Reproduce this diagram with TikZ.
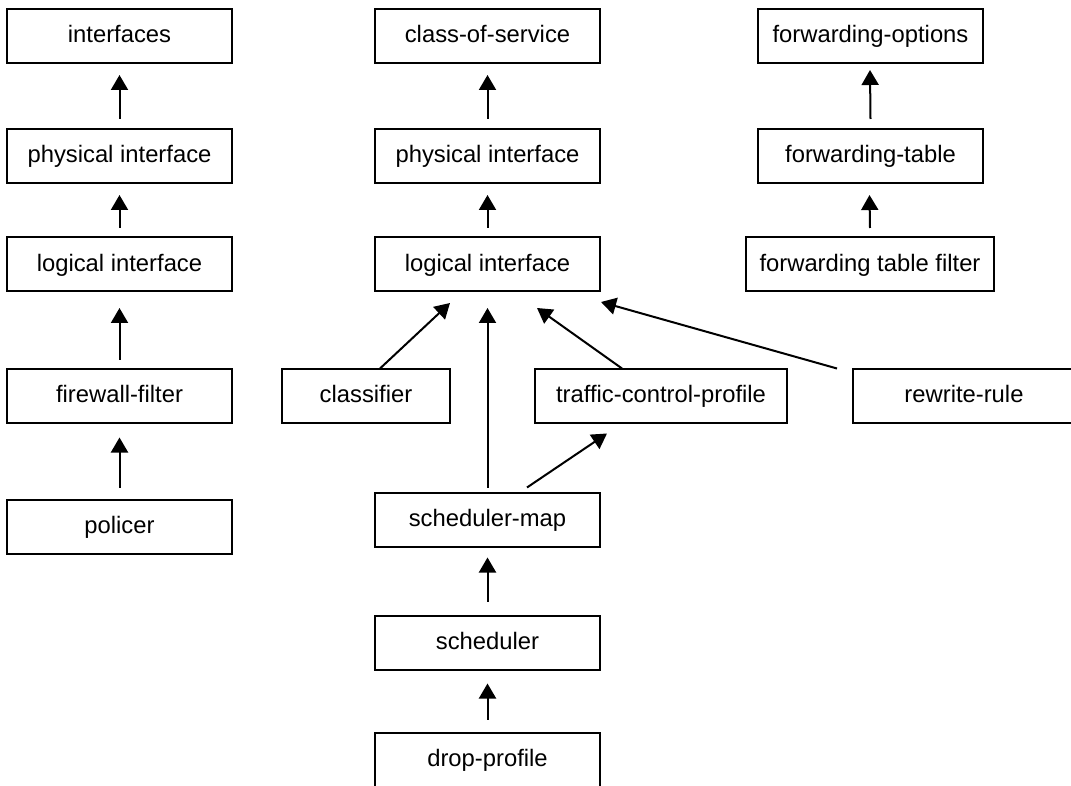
\documentclass[tikz,border=0pt]{standalone}
\usepackage{fontspec}
\setmainfont{Liberation Sans}
\usetikzlibrary{arrows.meta,calc}
\begin{document}
\begin{tikzpicture}[x=0.5pt,y=-0.5pt,
  box/.style={draw, line width=1pt, minimum height=27pt, inner sep=0pt, outer sep=0pt,
    text height=9pt, text depth=2pt, font=\fontsize{11.9}{14}\selectfont},
  arr/.style={line width=1pt, -{Triangle[length=7.5pt,width=8.5pt]}}]
\clip (0,0) rectangle (1071,786);
\fill[white] (0,0) rectangle (1071,786);
% left column
\node[box, minimum width=112.5pt] (interfaces) at (119.5,36) {interfaces};
\node[box, minimum width=112.5pt] (phys1) at (119.5,156) {physical interface};
\node[box, minimum width=112.5pt] (log1) at (119.5,264) {logical interface};
\node[box, minimum width=112.5pt] (firewall) at (119.5,395.5) {firewall-filter};
\node[box, minimum width=112.5pt] (policer) at (119.5,526.5) {policer};
% middle column
\node[box, minimum width=112.5pt] (cos) at (487.5,36) {class-of-service};
\node[box, minimum width=112.5pt] (phys2) at (487.5,156) {physical interface};
\node[box, minimum width=112.5pt] (log2) at (487.5,264) {logical interface};
\node[box, minimum width=84pt] (classifier) at (366,395.5) {classifier};
\node[box, minimum width=126pt] (tcp) at (661,395.5) {traffic-control-profile};
\node[box, minimum width=111pt] (rewrite) at (964,395.5) {rewrite-rule};
\node[box, minimum width=112.5pt] (schedmap) at (487.5,519.5) {scheduler-map};
\node[box, minimum width=112.5pt] (scheduler) at (487.5,642.5) {scheduler};
\node[box, minimum width=112.5pt] (drop) at (487.5,759.5) {drop-profile};
% right column
\node[box, minimum width=112.5pt] (fopts) at (870.5,36) {forwarding-options};
\node[box, minimum width=112.5pt] (ftable) at (870.5,156) {forwarding-table};
\node[box, minimum width=124pt] (ffilter) at (870,264) {forwarding table filter};
% arrows left
\draw[arr] ($(phys1.north)+(0,-10)$) -- ($(interfaces.south)+(0,12)$);
\draw[arr] ($(log1.north)+(0,-9)$) -- ($(phys1.south)+(0,12)$);
\draw[arr] ($(firewall.north)+(0,-9)$) -- ($(log1.south)+(0,17)$);
\draw[arr] ($(policer.north)+(0,-12)$) -- ($(firewall.south)+(0,15)$);
% arrows middle
\draw[arr] ($(phys2.north)+(0,-10)$) -- ($(cos.south)+(0,12)$);
\draw[arr] ($(log2.north)+(0,-9)$) -- ($(phys2.south)+(0,12)$);
\draw[arr] ($(classifier.north)+(14,0)$) -- ($(log2.south)+(-37.5,12)$);
\draw[arr] ($(schedmap.north)+(0,-5)$) -- ($(log2.south)+(0,17)$);
\draw[arr] ($(tcp.north)+(-39,0)$) -- ($(log2.south)+(49.5,17)$);
\draw[arr] ($(rewrite.north west)+(-16,0)$) -- ($(log2.south east)+(1,11)$);
\draw[arr] ($(schedmap.north)+(39.5,-5)$) -- ($(tcp.south west)+(72,11)$);
\draw[arr] ($(scheduler.north)+(0,-14)$) -- ($(schedmap.south)+(0,11)$);
\draw[arr] ($(drop.north)+(0,-13)$) -- ($(scheduler.south)+(0,14)$);
% arrows right
\draw[arr] ($(ftable.north)+(0,-10)$) -- ($(fopts.south)+(-0.5,7)$);
\draw[arr] ($(ffilter.north)+(0,-9)$) -- ($(ftable.south)+(-1,12)$);
\end{tikzpicture}
\end{document}
